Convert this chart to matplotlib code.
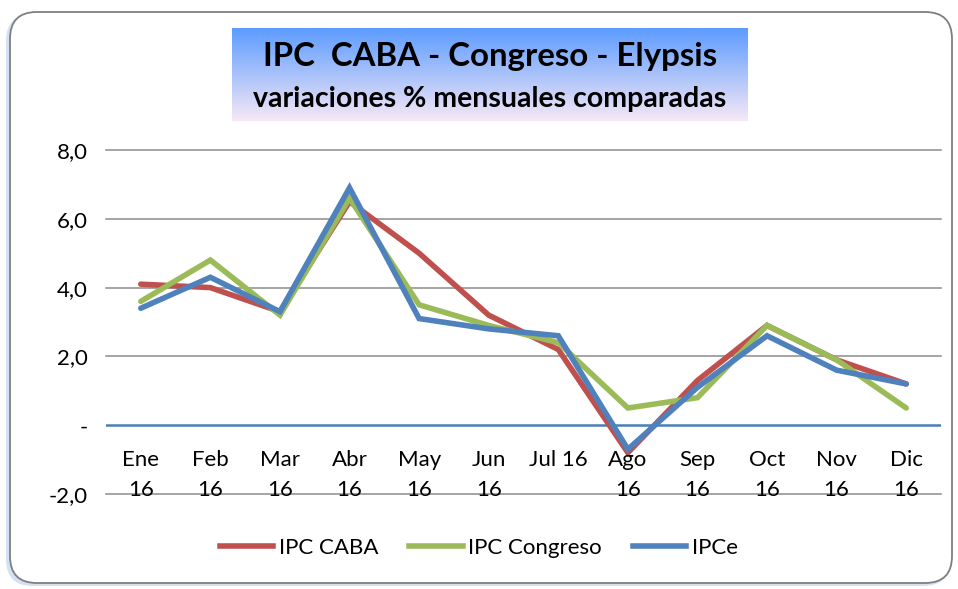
import numpy as np
import matplotlib
matplotlib.use("Agg")
import matplotlib.pyplot as plt
from matplotlib.patches import FancyBboxPatch
from matplotlib.lines import Line2D

months = ["Ene\n16", "Feb\n16", "Mar\n16", "Abr\n16", "May\n16", "Jun\n16",
          "Jul 16", "Ago\n16", "Sep\n16", "Oct\n16", "Nov\n16", "Dic\n16"]
ipc_caba = [4.1, 4.0, 3.3, 6.5, 5.0, 3.2, 2.2, -0.8, 1.3, 2.9, 1.9, 1.2]
ipc_congreso = [3.6, 4.8, 3.2, 6.6, 3.5, 2.9, 2.4, 0.5, 0.8, 2.9, 1.9, 0.5]
ipce = [3.4, 4.3, 3.3, 6.9, 3.1, 2.8, 2.6, -0.7, 1.1, 2.6, 1.6, 1.2]
yticks = [-2, 0, 2, 4, 6, 8]
ytick_labels = ["-2,0", "-", "2,0", "4,0", "6,0", "8,0"]
series_names = ["IPC CABA", "IPC Congreso", "IPCe"]
colors = ["#c0504d", "#9bbb59", "#4f81bd"]

plt.rcParams['font.family'] = ['Lato', 'DejaVu Sans']

fig = plt.figure(figsize=(9.58, 5.89), dpi=100)
W, H = 958, 589
FS = 16

# outer frame with shadow
shadow = FancyBboxPatch((6 / W, 3 / H), 944 / W, 572 / H,
                        boxstyle="round,pad=0,rounding_size=0.028",
                        transform=fig.transFigure, facecolor="#d3e2f3",
                        edgecolor="none", zorder=0, mutation_aspect=W / H)
fig.patches.append(shadow)
frame = FancyBboxPatch((10 / W, 6 / H), 942 / W, 571 / H,
                       boxstyle="round,pad=0,rounding_size=0.028",
                       transform=fig.transFigure, facecolor="white",
                       edgecolor="#7f7f7f", linewidth=1.3, zorder=1,
                       mutation_aspect=W / H)
fig.patches.append(frame)

ax = fig.add_axes([106 / W, 1 - 494 / H, (941 - 106) / W, (494 - 150) / H])
ax.set_zorder(2)
ax.patch.set_alpha(0)
x = np.arange(len(months))
ax.set_xlim(-0.5, len(months) - 0.5)
ax.set_ylim(-2, 8)
for yv in yticks:
    if yv != 0:
        ax.axhline(yv, color="#8c8c8c", linewidth=1.1, zorder=1, clip_on=False)
ax.axhline(0, color="#4a7ebb", linewidth=1.8, zorder=2)

for vals, c, name in zip([ipc_caba, ipc_congreso, ipce], colors, series_names):
    ax.plot(x, vals, color=c, linewidth=4.0, label=name, zorder=3,
            solid_joinstyle="miter", solid_capstyle="round")

for s in ax.spines.values():
    s.set_visible(False)
ax.set_xticks([])
ax.set_yticks(yticks)
ax.set_yticklabels(ytick_labels, fontsize=FS)
ax.tick_params(axis="y", length=0, pad=13)

for i, lab in enumerate(months):
    ax.annotate(lab, xy=(i, 0), xytext=(0, -25), textcoords="offset pixels",
                ha="center", va="top", fontsize=FS, linespacing=1.6,
                zorder=4)

# title box with gradient
tax = fig.add_axes([232 / W, 1 - 121 / H, (748 - 232) / W, (121 - 28) / H])
tax.set_zorder(3)
top = np.array([0x5b, 0x9b, 0xff]) / 255
bot = np.array([0xf6, 0xe8, 0xf6]) / 255
t = np.linspace(0, 1, 100)[:, None]
grad = top * (1 - t) + bot * t
tax.imshow(grad[:, None, :].repeat(10, axis=1), aspect="auto",
           extent=[0, 1, 0, 1], origin="upper")
tax.set_axis_off()
tax.text(0.5, 0.69, "IPC  CABA - Congreso - Elypsis", ha="center", va="center",
         fontsize=23.8, fontweight="bold", transform=tax.transAxes)
tax.text(0.5, 0.24, "variaciones % mensuales comparadas", ha="center",
         va="center", fontsize=20.5, fontweight="bold", transform=tax.transAxes)

handles = [Line2D([0], [0], color=c, linewidth=4.0) for c in colors]
fig.legend(handles, series_names, loc="center", bbox_to_anchor=(0.5, 1 - 548 / H),
           ncol=3, frameon=False, fontsize=FS, handlelength=2.4,
           columnspacing=1.4, handletextpad=0.25)

fig.savefig("out.png", dpi=100)
